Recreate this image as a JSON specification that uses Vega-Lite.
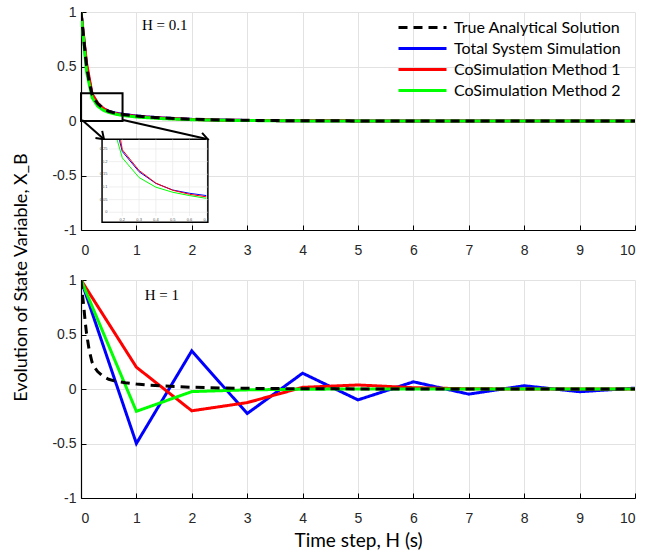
{
  "$schema": "https://vega.github.io/schema/vega-lite/v6.json",
  "background": "white",
  "padding": {"left": 12, "top": 5, "right": 5, "bottom": 5},
  "title": {"text": "Evolution of State Variable, X_B", "orient": "left", "anchor": "middle", "font": "Lato", "fontSize": 18, "fontWeight": "normal", "color": "#000000", "offset": 21},
  "spacing": 16,
  "resolve": {"scale": {"color": "independent", "strokeDash": "independent"}},
  "datasets": {
    "top": [
      {"t": 0, "v": 1, "s": "Total System Simulation"},
      {"t": 0.1, "v": 0.5, "s": "Total System Simulation"},
      {"t": 0.2, "v": 0.24, "s": "Total System Simulation"},
      {"t": 0.3, "v": 0.16, "s": "Total System Simulation"},
      {"t": 0.4, "v": 0.114, "s": "Total System Simulation"},
      {"t": 0.5, "v": 0.088, "s": "Total System Simulation"},
      {"t": 0.6, "v": 0.075, "s": "Total System Simulation"},
      {"t": 0.7, "v": 0.066, "s": "Total System Simulation"},
      {"t": 0.8, "v": 0.058, "s": "Total System Simulation"},
      {"t": 1.0, "v": 0.046, "s": "Total System Simulation"},
      {"t": 1.2, "v": 0.037, "s": "Total System Simulation"},
      {"t": 1.5, "v": 0.027, "s": "Total System Simulation"},
      {"t": 2.0, "v": 0.015, "s": "Total System Simulation"},
      {"t": 2.5, "v": 0.009, "s": "Total System Simulation"},
      {"t": 3.0, "v": 0.005, "s": "Total System Simulation"},
      {"t": 4.0, "v": 0.002, "s": "Total System Simulation"},
      {"t": 5.0, "v": 0.001, "s": "Total System Simulation"},
      {"t": 6.0, "v": 0, "s": "Total System Simulation"},
      {"t": 10.0, "v": 0, "s": "Total System Simulation"},
      {"t": 0, "v": 1, "s": "CoSimulation Method 1"},
      {"t": 0.1, "v": 0.53, "s": "CoSimulation Method 1"},
      {"t": 0.2, "v": 0.247, "s": "CoSimulation Method 1"},
      {"t": 0.3, "v": 0.165, "s": "CoSimulation Method 1"},
      {"t": 0.4, "v": 0.115, "s": "CoSimulation Method 1"},
      {"t": 0.5, "v": 0.087, "s": "CoSimulation Method 1"},
      {"t": 0.6, "v": 0.071, "s": "CoSimulation Method 1"},
      {"t": 0.7, "v": 0.061, "s": "CoSimulation Method 1"},
      {"t": 0.8, "v": 0.054, "s": "CoSimulation Method 1"},
      {"t": 1.0, "v": 0.043, "s": "CoSimulation Method 1"},
      {"t": 1.2, "v": 0.035, "s": "CoSimulation Method 1"},
      {"t": 1.5, "v": 0.025, "s": "CoSimulation Method 1"},
      {"t": 2.0, "v": 0.014, "s": "CoSimulation Method 1"},
      {"t": 2.5, "v": 0.008, "s": "CoSimulation Method 1"},
      {"t": 3.0, "v": 0.005, "s": "CoSimulation Method 1"},
      {"t": 4.0, "v": 0.002, "s": "CoSimulation Method 1"},
      {"t": 5.0, "v": 0.001, "s": "CoSimulation Method 1"},
      {"t": 6.0, "v": 0, "s": "CoSimulation Method 1"},
      {"t": 10.0, "v": 0, "s": "CoSimulation Method 1"},
      {"t": 0, "v": 1, "s": "CoSimulation Method 2"},
      {"t": 0.1, "v": 0.45, "s": "CoSimulation Method 2"},
      {"t": 0.2, "v": 0.215, "s": "CoSimulation Method 2"},
      {"t": 0.3, "v": 0.137, "s": "CoSimulation Method 2"},
      {"t": 0.4, "v": 0.099, "s": "CoSimulation Method 2"},
      {"t": 0.5, "v": 0.079, "s": "CoSimulation Method 2"},
      {"t": 0.6, "v": 0.066, "s": "CoSimulation Method 2"},
      {"t": 0.7, "v": 0.055, "s": "CoSimulation Method 2"},
      {"t": 0.8, "v": 0.048, "s": "CoSimulation Method 2"},
      {"t": 1.0, "v": 0.037, "s": "CoSimulation Method 2"},
      {"t": 1.2, "v": 0.03, "s": "CoSimulation Method 2"},
      {"t": 1.5, "v": 0.021, "s": "CoSimulation Method 2"},
      {"t": 2.0, "v": 0.012, "s": "CoSimulation Method 2"},
      {"t": 2.5, "v": 0.007, "s": "CoSimulation Method 2"},
      {"t": 3.0, "v": 0.004, "s": "CoSimulation Method 2"},
      {"t": 4.0, "v": 0.001, "s": "CoSimulation Method 2"},
      {"t": 5.0, "v": 0, "s": "CoSimulation Method 2"},
      {"t": 10.0, "v": 0, "s": "CoSimulation Method 2"},
      {"t": 0, "v": 1, "s": "True Analytical Solution"},
      {"t": 0.025, "v": 0.87, "s": "True Analytical Solution"},
      {"t": 0.05, "v": 0.76, "s": "True Analytical Solution"},
      {"t": 0.075, "v": 0.62, "s": "True Analytical Solution"},
      {"t": 0.1, "v": 0.51, "s": "True Analytical Solution"},
      {"t": 0.15, "v": 0.35, "s": "True Analytical Solution"},
      {"t": 0.2, "v": 0.245, "s": "True Analytical Solution"},
      {"t": 0.25, "v": 0.195, "s": "True Analytical Solution"},
      {"t": 0.3, "v": 0.16, "s": "True Analytical Solution"},
      {"t": 0.4, "v": 0.115, "s": "True Analytical Solution"},
      {"t": 0.5, "v": 0.089, "s": "True Analytical Solution"},
      {"t": 0.6, "v": 0.075, "s": "True Analytical Solution"},
      {"t": 0.7, "v": 0.066, "s": "True Analytical Solution"},
      {"t": 0.8, "v": 0.058, "s": "True Analytical Solution"},
      {"t": 1.0, "v": 0.046, "s": "True Analytical Solution"},
      {"t": 1.2, "v": 0.037, "s": "True Analytical Solution"},
      {"t": 1.5, "v": 0.027, "s": "True Analytical Solution"},
      {"t": 2.0, "v": 0.016, "s": "True Analytical Solution"},
      {"t": 2.5, "v": 0.01, "s": "True Analytical Solution"},
      {"t": 3.0, "v": 0.006, "s": "True Analytical Solution"},
      {"t": 3.5, "v": 0.004, "s": "True Analytical Solution"},
      {"t": 4.0, "v": 0.002, "s": "True Analytical Solution"},
      {"t": 5.0, "v": 0.001, "s": "True Analytical Solution"},
      {"t": 6.0, "v": 0, "s": "True Analytical Solution"},
      {"t": 10.0, "v": 0, "s": "True Analytical Solution"}
    ],
    "bottom": [
      {"t": 0, "v": 1, "s": "Total System Simulation"},
      {"t": 1, "v": -0.5, "s": "Total System Simulation"},
      {"t": 2, "v": 0.35, "s": "Total System Simulation"},
      {"t": 3, "v": -0.225, "s": "Total System Simulation"},
      {"t": 4, "v": 0.145, "s": "Total System Simulation"},
      {"t": 5, "v": -0.1, "s": "Total System Simulation"},
      {"t": 6, "v": 0.066, "s": "Total System Simulation"},
      {"t": 7, "v": -0.047, "s": "Total System Simulation"},
      {"t": 8, "v": 0.03, "s": "Total System Simulation"},
      {"t": 9, "v": -0.025, "s": "Total System Simulation"},
      {"t": 10, "v": 0.008, "s": "Total System Simulation"},
      {"t": 0, "v": 1, "s": "CoSimulation Method 1"},
      {"t": 1, "v": 0.2, "s": "CoSimulation Method 1"},
      {"t": 2, "v": -0.2, "s": "CoSimulation Method 1"},
      {"t": 3, "v": -0.125, "s": "CoSimulation Method 1"},
      {"t": 4, "v": 0.015, "s": "CoSimulation Method 1"},
      {"t": 5, "v": 0.037, "s": "CoSimulation Method 1"},
      {"t": 6, "v": 0.012, "s": "CoSimulation Method 1"},
      {"t": 7, "v": 0.002, "s": "CoSimulation Method 1"},
      {"t": 8, "v": 0, "s": "CoSimulation Method 1"},
      {"t": 9, "v": 0, "s": "CoSimulation Method 1"},
      {"t": 10, "v": 0, "s": "CoSimulation Method 1"},
      {"t": 0, "v": 1, "s": "CoSimulation Method 2"},
      {"t": 1, "v": -0.205, "s": "CoSimulation Method 2"},
      {"t": 2, "v": -0.024, "s": "CoSimulation Method 2"},
      {"t": 3, "v": -0.008, "s": "CoSimulation Method 2"},
      {"t": 4, "v": -0.002, "s": "CoSimulation Method 2"},
      {"t": 5, "v": 0, "s": "CoSimulation Method 2"},
      {"t": 6, "v": 0, "s": "CoSimulation Method 2"},
      {"t": 7, "v": 0, "s": "CoSimulation Method 2"},
      {"t": 8, "v": 0, "s": "CoSimulation Method 2"},
      {"t": 9, "v": 0, "s": "CoSimulation Method 2"},
      {"t": 10, "v": 0, "s": "CoSimulation Method 2"},
      {"t": 0, "v": 1, "s": "True Analytical Solution"},
      {"t": 0.025, "v": 0.87, "s": "True Analytical Solution"},
      {"t": 0.05, "v": 0.76, "s": "True Analytical Solution"},
      {"t": 0.075, "v": 0.62, "s": "True Analytical Solution"},
      {"t": 0.1, "v": 0.51, "s": "True Analytical Solution"},
      {"t": 0.15, "v": 0.35, "s": "True Analytical Solution"},
      {"t": 0.2, "v": 0.245, "s": "True Analytical Solution"},
      {"t": 0.25, "v": 0.195, "s": "True Analytical Solution"},
      {"t": 0.3, "v": 0.16, "s": "True Analytical Solution"},
      {"t": 0.4, "v": 0.115, "s": "True Analytical Solution"},
      {"t": 0.5, "v": 0.089, "s": "True Analytical Solution"},
      {"t": 0.6, "v": 0.075, "s": "True Analytical Solution"},
      {"t": 0.7, "v": 0.066, "s": "True Analytical Solution"},
      {"t": 0.8, "v": 0.058, "s": "True Analytical Solution"},
      {"t": 1.0, "v": 0.046, "s": "True Analytical Solution"},
      {"t": 1.2, "v": 0.037, "s": "True Analytical Solution"},
      {"t": 1.5, "v": 0.027, "s": "True Analytical Solution"},
      {"t": 2.0, "v": 0.016, "s": "True Analytical Solution"},
      {"t": 2.5, "v": 0.01, "s": "True Analytical Solution"},
      {"t": 3.0, "v": 0.006, "s": "True Analytical Solution"},
      {"t": 3.5, "v": 0.004, "s": "True Analytical Solution"},
      {"t": 4.0, "v": 0.002, "s": "True Analytical Solution"},
      {"t": 5.0, "v": 0.001, "s": "True Analytical Solution"},
      {"t": 6.0, "v": 0, "s": "True Analytical Solution"},
      {"t": 10.0, "v": 0, "s": "True Analytical Solution"}
    ],
    "inset": [
      {"u": 0.183, "v": 0.285, "s": "Total System Simulation"},
      {"u": 0.2, "v": 0.24, "s": "Total System Simulation"},
      {"u": 0.3, "v": 0.16, "s": "Total System Simulation"},
      {"u": 0.4, "v": 0.114, "s": "Total System Simulation"},
      {"u": 0.5, "v": 0.088, "s": "Total System Simulation"},
      {"u": 0.6, "v": 0.075, "s": "Total System Simulation"},
      {"u": 0.7, "v": 0.066, "s": "Total System Simulation"},
      {"u": 0.19, "v": 0.285, "s": "CoSimulation Method 1"},
      {"u": 0.2, "v": 0.247, "s": "CoSimulation Method 1"},
      {"u": 0.3, "v": 0.165, "s": "CoSimulation Method 1"},
      {"u": 0.4, "v": 0.115, "s": "CoSimulation Method 1"},
      {"u": 0.5, "v": 0.087, "s": "CoSimulation Method 1"},
      {"u": 0.6, "v": 0.071, "s": "CoSimulation Method 1"},
      {"u": 0.7, "v": 0.061, "s": "CoSimulation Method 1"},
      {"u": 0.17, "v": 0.285, "s": "CoSimulation Method 2"},
      {"u": 0.2, "v": 0.215, "s": "CoSimulation Method 2"},
      {"u": 0.3, "v": 0.137, "s": "CoSimulation Method 2"},
      {"u": 0.4, "v": 0.099, "s": "CoSimulation Method 2"},
      {"u": 0.5, "v": 0.079, "s": "CoSimulation Method 2"},
      {"u": 0.6, "v": 0.066, "s": "CoSimulation Method 2"},
      {"u": 0.7, "v": 0.055, "s": "CoSimulation Method 2"}
    ],
    "insetX": [{"u": 0.2}, {"u": 0.3}, {"u": 0.4}, {"u": 0.5}, {"u": 0.6}, {"u": 0.7}],
    "insetY": [{"v": 0}, {"v": 0.05}, {"v": 0.1}, {"v": 0.15}, {"v": 0.2}, {"v": 0.25}],
    "zoomBox": [{"x": 0, "x2": 0.75, "y": 0, "y2": 0.255}],
    "insetFrame": [{"x": 0.38, "x2": 2.29, "y": -0.93, "y2": -0.168}],
    "arrows": [
      {"x": 0.02, "y": 0.01, "x2": 0.415, "y2": -0.168, "id": "a"},
      {"x": 0.76, "y": 0.01, "x2": 2.29, "y2": -0.168, "id": "b"}
    ],
    "labelTop": [{"x": 1.51, "y": 0.877, "label": "H = 0.1"}],
    "labelBottom": [{"x": 1.46, "y": 0.86, "label": "H = 1"}]
  },
  "vconcat": [
    {
      "width": 554,
      "height": 218,
      "layer": [
        {
          "layer": [
            {
              "data": {"name": "top"},
              "mark": {"type": "line", "strokeWidth": 3, "clip": true},
              "encoding": {
                "x": {"field": "t", "type": "quantitative", "scale": {"domain": [0, 10], "nice": false, "zero": false},
                      "axis": {"title": null, "values": [0,1,2,3,4,5,6,7,8,9,10], "grid": true, "tickSize": -5, "labelPadding": 18}},
                "y": {"field": "v", "type": "quantitative", "scale": {"domain": [-1, 1], "nice": false, "zero": false},
                      "axis": {"title": null, "values": [-1, -0.5, 0, 0.5, 1], "grid": true, "tickSize": -5, "labelPadding": 10, "labelExpr": "toString(datum.value)"}},
                "color": {"field": "s", "type": "nominal",
                  "scale": {"domain": ["True Analytical Solution", "Total System Simulation", "CoSimulation Method 1", "CoSimulation Method 2"], "range": ["#000000", "#0000ff", "#ff0000", "#00ff00"]},
                  "legend": {"title": null, "orient": "none", "legendX": 332, "legendY": 6, "symbolType": "M -3 0 H 3", "symbolSize": 256, "symbolStrokeWidth": 3, "labelFont": "Lato", "labelFontSize": 16, "labelColor": "#000000", "labelLimit": 0, "padding": 0, "labelOffset": 22, "rowPadding": 3}},
                "strokeDash": {"field": "s", "type": "nominal",
                  "scale": {"domain": ["True Analytical Solution", "Total System Simulation", "CoSimulation Method 1", "CoSimulation Method 2"], "range": [[9, 6], [1, 0], [1, 0], [1, 0]]},
                  "legend": {"title": null, "orient": "none", "legendX": 332, "legendY": 6, "symbolType": "M -3 0 H 3", "symbolSize": 256, "symbolStrokeWidth": 3, "labelFont": "Lato", "labelFontSize": 16, "labelColor": "#000000", "labelLimit": 0, "padding": 0, "labelOffset": 22, "rowPadding": 3}},
                "order": {"field": "t", "type": "quantitative"}
              }
            },
            {
              "data": {"name": "labelTop"},
              "mark": {"type": "text", "font": "Liberation Serif", "fontSize": 15, "color": "#000000", "align": "center", "baseline": "middle"},
              "encoding": {"x": {"field": "x", "type": "quantitative"}, "y": {"field": "y", "type": "quantitative"}, "text": {"field": "label"}}
            },
            {
              "data": {"name": "zoomBox"},
              "mark": {"type": "rect", "fill": null, "stroke": "#000000", "strokeWidth": 2},
              "encoding": {"x": {"field": "x", "type": "quantitative"}, "x2": {"field": "x2"}, "y": {"field": "y", "type": "quantitative"}, "y2": {"field": "y2"}}
            },
            {
              "data": {"name": "arrows"},
              "mark": {"type": "rule", "stroke": "#000000", "strokeWidth": 2},
              "encoding": {"x": {"field": "x", "type": "quantitative"}, "x2": {"field": "x2"}, "y": {"field": "y", "type": "quantitative"}, "y2": {"field": "y2"}}
            },
            {
              "data": {"name": "arrows"},
              "transform": [{"filter": "datum.id == 'a'"}],
              "mark": {"type": "point", "shape": "M -1 -0.7 L 0 0 L -1 0.7", "filled": false, "stroke": "#000000", "strokeWidth": 2, "size": 200, "angle": 43, "opacity": 1},
              "encoding": {"x": {"field": "x2", "type": "quantitative"}, "y": {"field": "y2", "type": "quantitative"}}
            },
            {
              "data": {"name": "arrows"},
              "transform": [{"filter": "datum.id == 'b'"}],
              "mark": {"type": "point", "shape": "M -1 -0.7 L 0 0 L -1 0.7", "filled": false, "stroke": "#000000", "strokeWidth": 2, "size": 200, "angle": 13, "opacity": 1},
              "encoding": {"x": {"field": "x2", "type": "quantitative"}, "y": {"field": "y2", "type": "quantitative"}}
            },
            {
              "data": {"name": "insetFrame"},
              "mark": {"type": "rect", "fill": "#ffffff", "stroke": "#000000", "strokeWidth": 1.5},
              "encoding": {"x": {"field": "x", "type": "quantitative"}, "x2": {"field": "x2"}, "y": {"field": "y", "type": "quantitative"}, "y2": {"field": "y2"}}
            }
          ]
        },
        {
          "layer": [
            {
              "data": {"name": "insetX"},
              "mark": {"type": "rule", "stroke": "#e8e8e8", "strokeWidth": 0.7},
              "encoding": {
                "x": {"field": "u", "type": "quantitative", "scale": {"domain": [-0.0458, 3.252], "nice": false, "zero": false}, "axis": null},
                "y": {"datum": -0.015, "scale": {"domain": [-0.07, 0.7908], "nice": false, "zero": false}, "axis": null},
                "y2": {"datum": 0.287}
              }
            },
            {
              "data": {"name": "insetY"},
              "mark": {"type": "rule", "stroke": "#e8e8e8", "strokeWidth": 0.7},
              "encoding": {
                "y": {"field": "v", "type": "quantitative", "axis": null},
                "x": {"datum": 0.12, "axis": null},
                "x2": {"datum": 0.708}
              }
            },
            {
              "data": {"name": "inset"},
              "transform": [{"filter": "datum.s == 'Total System Simulation'"}],
              "mark": {"type": "line", "stroke": "#0000ff", "strokeWidth": 1},
              "encoding": {"x": {"field": "u", "type": "quantitative", "axis": null}, "y": {"field": "v", "type": "quantitative", "axis": null}}
            },
            {
              "data": {"name": "inset"},
              "transform": [{"filter": "datum.s == 'CoSimulation Method 1'"}],
              "mark": {"type": "line", "stroke": "#ff0000", "strokeWidth": 1},
              "encoding": {"x": {"field": "u", "type": "quantitative", "axis": null}, "y": {"field": "v", "type": "quantitative", "axis": null}}
            },
            {
              "data": {"name": "inset"},
              "transform": [{"filter": "datum.s == 'CoSimulation Method 2'"}],
              "mark": {"type": "line", "stroke": "#00ff00", "strokeWidth": 1},
              "encoding": {"x": {"field": "u", "type": "quantitative", "axis": null}, "y": {"field": "v", "type": "quantitative", "axis": null}}
            },
            {
              "data": {"name": "insetX"},
              "mark": {"type": "text", "fontSize": 4, "font": "Liberation Sans", "color": "#555555", "baseline": "top"},
              "encoding": {"x": {"field": "u", "type": "quantitative", "axis": null}, "y": {"datum": -0.022, "axis": null}, "text": {"field": "u", "type": "quantitative"}}
            },
            {
              "data": {"name": "insetY"},
              "mark": {"type": "text", "fontSize": 4, "font": "Liberation Sans", "color": "#555555", "align": "right", "baseline": "middle"},
              "encoding": {"y": {"field": "v", "type": "quantitative", "axis": null}, "x": {"datum": 0.112, "axis": null}, "text": {"field": "v", "type": "quantitative"}}
            }
          ]
        }
      ],
      "resolve": {"scale": {"x": "independent", "y": "independent"}}
    },
    {
      "width": 554,
      "height": 218,
      "layer": [
        {
          "data": {"name": "bottom"},
          "mark": {"type": "line", "strokeWidth": 3, "clip": true},
          "encoding": {
            "x": {"field": "t", "type": "quantitative", "scale": {"domain": [0, 10], "nice": false, "zero": false},
                  "axis": {"title": "Time  step, H (s)", "values": [0,1,2,3,4,5,6,7,8,9,10], "grid": true, "tickSize": -5, "labelPadding": 18, "titlePadding": 6}},
            "y": {"field": "v", "type": "quantitative", "scale": {"domain": [-1, 1], "nice": false, "zero": false},
                  "axis": {"title": null, "values": [-1, -0.5, 0, 0.5, 1], "grid": true, "tickSize": -5, "labelPadding": 10, "labelExpr": "toString(datum.value)"}},
            "color": {"field": "s", "type": "nominal",
              "scale": {"domain": ["True Analytical Solution", "Total System Simulation", "CoSimulation Method 1", "CoSimulation Method 2"], "range": ["#000000", "#0000ff", "#ff0000", "#00ff00"]},
              "legend": null},
            "strokeDash": {"field": "s", "type": "nominal",
              "scale": {"domain": ["True Analytical Solution", "Total System Simulation", "CoSimulation Method 1", "CoSimulation Method 2"], "range": [[9, 6], [1, 0], [1, 0], [1, 0]]},
              "legend": null},
            "order": {"field": "t", "type": "quantitative"}
          }
        },
        {
          "data": {"name": "labelBottom"},
          "mark": {"type": "text", "font": "Liberation Serif", "fontSize": 15, "color": "#000000", "align": "center", "baseline": "middle"},
          "encoding": {"x": {"field": "x", "type": "quantitative"}, "y": {"field": "y", "type": "quantitative"}, "text": {"field": "label"}}
        }
      ]
    }
  ],
  "config": {
    "view": {"stroke": null},
    "axis": {
      "gridColor": "#e2e2e2",
      "gridWidth": 1,
      "domainColor": "#000000",
      "domainWidth": 1.2,
      "tickColor": "#000000",
      "labelFont": "Liberation Sans",
      "labelFontSize": 14,
      "labelColor": "#262626",
      "titleFont": "Lato",
      "titleFontWeight": "normal",
      "titleFontSize": 19,
      "titleColor": "#000000"
    }
  }
}
